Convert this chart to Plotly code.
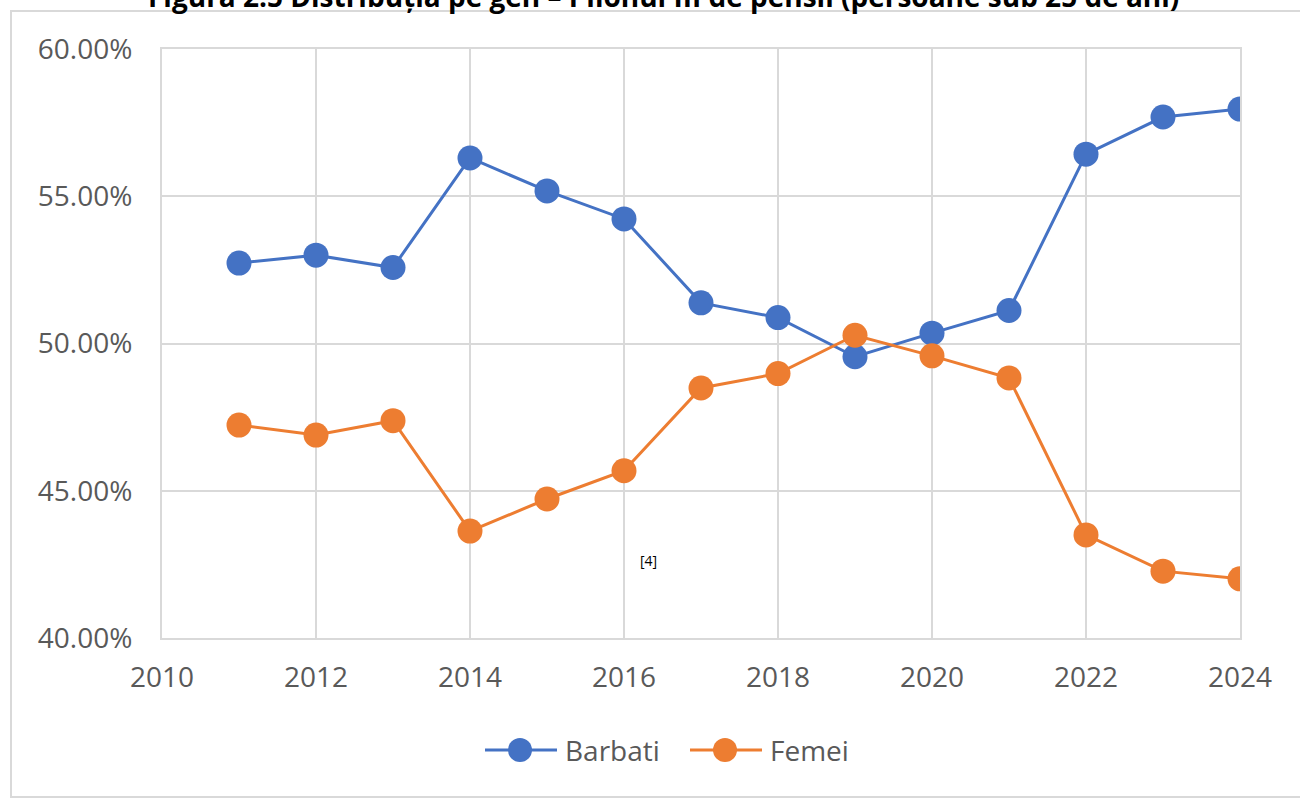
import plotly.graph_objects as go

years = [2011, 2012, 2013, 2014, 2015, 2016, 2017, 2018, 2019, 2020, 2021, 2022, 2023, 2024]
barbati = [52.73, 53.00, 52.58, 56.30, 55.18, 54.23, 51.38, 50.88, 49.55, 50.35, 51.12, 56.43, 57.69, 57.96]
femei = [47.23, 46.89, 47.38, 43.63, 44.72, 45.68, 48.49, 48.98, 50.28, 49.58, 48.83, 43.50, 42.27, 42.01]
y_ticks = [40, 45, 50, 55, 60]
y_labels = ["40.00%", "45.00%", "50.00%", "55.00%", "60.00%"]
x_ticks = [2010, 2012, 2014, 2016, 2018, 2020, 2022, 2024]
series_names = ["Barbati", "Femei"]

title_text = "Figura 2.5 Distribuția pe gen – Pilonul III de pensii (persoane sub 25 de ani)"

BLUE = "#4472C4"
ORANGE = "#ED7D31"
GRID = "#d9d9d9"
TXT = "#595959"
FONT = "Open Sans"

fig = go.Figure()
fig.add_trace(go.Scatter(x=years, y=barbati, name=series_names[0], mode="lines+markers",
                         line=dict(color=BLUE, width=3),
                         marker=dict(color=BLUE, size=25), showlegend=False))
fig.add_trace(go.Scatter(x=years, y=femei, name=series_names[1], mode="lines+markers",
                         line=dict(color=ORANGE, width=3),
                         marker=dict(color=ORANGE, size=25), showlegend=False))

L, R, T, B = 162, 60, 49, 160
W, H = 1300, 798
pw, ph = W - L - R, H - T - B


def px2x(p):
    return (p - L) / pw


def py2y(p):
    return (H - B - p) / ph


fig.update_layout(
    width=W, height=H,
    margin=dict(l=L, r=R, t=T, b=B),
    paper_bgcolor="white", plot_bgcolor="white",
    font=dict(family=FONT, color=TXT, size=28),
    xaxis=dict(range=[2010, 2024], tickvals=x_ticks, showgrid=True, gridcolor=GRID, gridwidth=2,
               showline=True, linecolor=GRID, linewidth=2, mirror=True, zeroline=False,
               ticks="", ticklabelstandoff=13, tickfont=dict(size=28, color=TXT)),
    yaxis=dict(range=[40, 60], tickvals=y_ticks, ticktext=y_labels,
               showgrid=True, gridcolor=GRID, gridwidth=2,
               showline=True, linecolor=GRID, linewidth=2, mirror=True, zeroline=False,
               ticks="", ticklabelstandoff=22, tickfont=dict(size=28, color=TXT)),
    showlegend=False,
)

# title (cut off at the top edge, as in the reference)
fig.add_annotation(text="<b>" + title_text + "</b>", xref="paper", yref="paper",
                   x=px2x(663), y=py2y(-4), xanchor="center", yanchor="middle",
                   showarrow=False, font=dict(family=FONT, size=28, color="black"))

# outer chart frame
fig.add_shape(type="rect", xref="paper", yref="paper",
              x0=px2x(11), x1=px2x(1310), y0=py2y(797), y1=py2y(11),
              line=dict(color=GRID, width=2), fillcolor="rgba(0,0,0,0)", layer="below")

# custom legend
legend_items = [(series_names[0], BLUE, 485), (series_names[1], ORANGE, 690)]
ly = 750
for name, col, x0 in legend_items:
    fig.add_shape(type="line", xref="paper", yref="paper",
                  x0=px2x(x0), x1=px2x(x0 + 72), y0=py2y(ly), y1=py2y(ly),
                  line=dict(color=col, width=3))
    cx = x0 + 35
    r = 12
    fig.add_shape(type="circle", xref="paper", yref="paper",
                  x0=px2x(cx - r), x1=px2x(cx + r), y0=py2y(ly + r), y1=py2y(ly - r),
                  line=dict(color=col, width=0), fillcolor=col)
    fig.add_annotation(text=name, xref="paper", yref="paper", x=px2x(x0 + 78), y=py2y(ly),
                       xanchor="left", yanchor="middle", showarrow=False,
                       font=dict(family=FONT, size=28, color=TXT))

fig.add_annotation(text="[4]", xref="paper", yref="paper", x=px2x(648), y=py2y(572),
                   showarrow=False, font=dict(family=FONT, size=14, color="black"))

fig.write_html("out.html")
